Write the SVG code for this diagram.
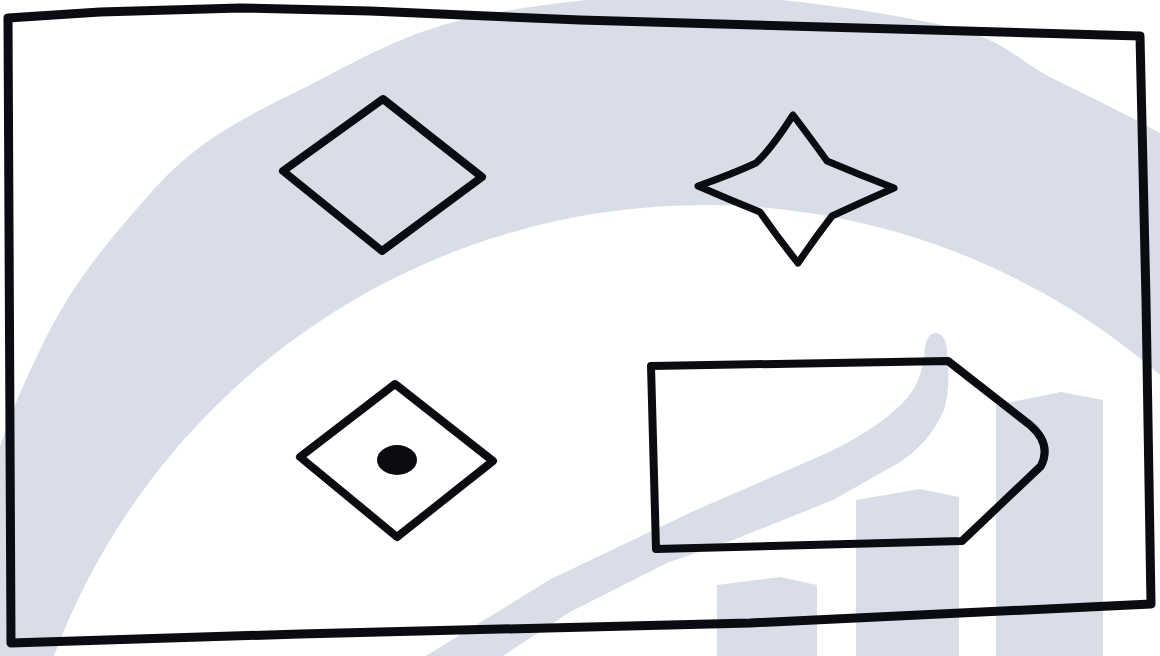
<svg xmlns="http://www.w3.org/2000/svg" width="1160" height="656" viewBox="0 0 1160 656">
  <style>
    .wm { fill: #d9dde7; stroke: none; }
    .ink { fill: none; stroke: #0b0b12; stroke-linejoin: round; stroke-linecap: round; }
  </style>
  <rect x="0" y="0" width="1160" height="656" fill="#ffffff"/>
  <g id="watermark">
    <path class="wm" d="M-20,500 L17,400 C31.5,366.7 47.7,331.2 67,300 C86.3,268.8 110.8,238.5 133,213 C155.2,187.5 172.2,167.5 200,147 C227.8,126.5 256.3,111.2 300,90 C343.7,68.8 395.3,35.8 462,20 C528.7,4.2 618.7,-6.2 700,-5 C781.3,-3.8 891.7,13.3 950,27 C1008.3,40.7 1015,59.3 1050,77 C1085,94.7 1126.7,114.2 1160,133 L1200,133 L1200,400 L1160,375 A695,695 0 0 0 39,700 L-20,700 Z"/>
    <path class="wm" d="M389,679 L429,654 L549.9,579.6 L691.6,511.9 L831.5,451 Q885,424 908,397 Q924,376 925,348 Q927,333 936,333 Q946,334 947,352 Q951,385 944,410 Q928,446 895,465 L833,500 L733,540 L667,563 L570,612 L451,689.9 L411,715 Z"/>
    <polygon class="wm" points="717,660 717,585 780,577 817,585 817,660"/>
    <polygon class="wm" points="856,660 856,500 920,489 959,497 959,660"/>
    <polygon class="wm" points="996,660 996,405 1061,392 1103,400 1103,660"/>
  </g>
  <g id="frame">
    <path class="ink" stroke-width="9" d="M8,18 L100,12 L240,8 L370,11 L580,20 L1140,36 L1146,300 L1151,604 L750,623 L300,634 L11,643 Z"/>
  </g>
  <g id="diamond">
    <polygon class="ink" stroke-width="8" points="383,99 482,177 382,251 283,171"/>
  </g>
  <g id="star">
    <path class="ink" stroke-width="7" d="M793,115 Q772,148 756,163 Q730,175 698,186 Q730,200 760,212 Q778,238 798,263 Q815,238 832,216 Q862,202 894,188 Q860,175 827,161 Q812,140 793,115 Z"/>
  </g>
  <g id="diamond-dot">
    <polygon class="ink" stroke-width="8" points="395,384 493,461 397,537 300,457"/>
    <ellipse cx="397" cy="460" rx="20" ry="15" fill="#0b0b12"/>
  </g>
  <g id="pentagon">
    <path class="ink" stroke-width="8" d="M651,366 L948,361 L1030,425 Q1052,444 1041,466 L962,541 L656,549 Z"/>
  </g>
  <g id="connectors"/>
</svg>
